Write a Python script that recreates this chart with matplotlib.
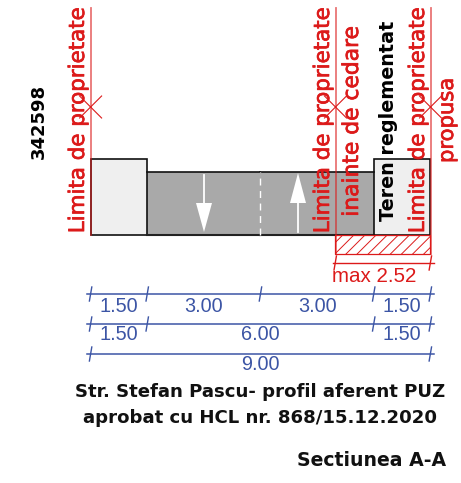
import matplotlib
matplotlib.use("Agg")
import matplotlib.pyplot as plt
import matplotlib.patheffects as pe
from matplotlib.patches import Rectangle, Polygon
from itertools import accumulate

# Street profile, metres
lane_widths = [1.50, 3.00, 3.00, 1.50]
zone_widths = [1.50, 6.00, 1.50]
total_width = [9.00]
surface_heights = [2.00, 1.68, 1.68, 2.00]
surface_names = ["walk", "road", "road", "walk"]
setback = 2.52

RED = "#dc1a1a"
BLUE = "#3c55a5"
SCALE = 37.75
X0, Y0 = 90.6, 235.0
W, H = 461, 483

plt.rcParams["hatch.linewidth"] = 0.7
fig = plt.figure(figsize=(W / 100, H / 100), dpi=100)
ax = fig.add_axes([0, 0, 1, 1])
ax.set_xlim(-X0 / SCALE, (W - X0) / SCALE)
ax.set_ylim((Y0 - H) / SCALE, Y0 / SCALE)
ax.axis("off")


def py(p):
    return (Y0 - p) / SCALE


def px(p):
    return (p - X0) / SCALE


# Surfaces
edges = [0] + list(accumulate(lane_widths))
colors = {"walk": "#efefef", "road": "#a9a9a9"}
for left, w, h, name in zip(edges, lane_widths, surface_heights, surface_names):
    ax.add_patch(Rectangle((left, 0), w, h, fc=colors[name], ec="none", zorder=2))
    if name == "walk":
        ax.add_patch(Rectangle((left, 0), w, h, fc="none", ec="#111111", lw=1.2, zorder=3))
    else:
        ax.plot([left, left + w], [h, h], color="#111111", lw=1.2, zorder=3)
        ax.plot([left, left + w], [0, 0], color="#222222", lw=1.5, zorder=3)

# Centre line
ax.plot([edges[2]] * 2, [0, surface_heights[1]], color="white", lw=1, ls=(0, (5, 4)), zorder=3)

# Direction arrows
for xc, tip, base, tail in [(204, 232, 203, 175), (298, 173, 203, 232)]:
    x = px(xc)
    ax.plot([x, x], [py(base), py(tail)], color="white", lw=1.3, zorder=3)
    ax.add_patch(Polygon([(x - 8 / SCALE, py(base)), (x + 8 / SCALE, py(base)), (x, py(tip))],
                         fc="white", ec="none", zorder=3))

# Setback hatch
total = total_width[0]
ax.add_patch(Rectangle((total - setback, py(254)), setback, -py(254), fc="white", ec=RED,
                       hatch="///", lw=0.9, zorder=3))

# Property lines and crosses
for xp, bottom in [(90.6, 235), (335.5, 254), (430.5, 254)]:
    x = px(xp)
    ax.plot([x, x], [py(8), py(bottom)], color=RED, lw=1.3, alpha=0.6, zorder=4)
    ax.plot([x - 11 / SCALE, x + 11 / SCALE], [py(96), py(118)], color=RED, lw=0.8, zorder=4)
    ax.plot([x - 11 / SCALE, x + 11 / SCALE], [py(118), py(96)], color=RED, lw=0.8, zorder=4)

# Vertical labels
vfont = ["DejaVu Sans"]
vertical = [
    ("Limita de proprietate", 78, 120.5, RED, 15.4, "normal"),
    ("Limita de proprietate", 323, 120.5, RED, 15.4, "normal"),
    ("inainte de cedare", 352, 121.5, RED, 15.7, "normal"),
    ("Teren reglementat", 388, 121, "black", 13.8, "bold"),
    ("Limita de proprietate", 418, 120.5, RED, 15.4, "normal"),
    ("propusa", 447, 120.5, RED, 15.2, "normal"),
]
for s, xp, yp, c, fs, fw in vertical:
    t = ax.text(px(xp), py(yp), s, rotation=90, ha="center", va="center", color=c, fontsize=fs,
                family=vfont, fontweight=fw, zorder=5)
    if fw == "normal":
        t.set_path_effects([pe.withStroke(linewidth=0.5, foreground=c)])
ax.text(px(39), py(121), "342598", rotation=90, ha="center", va="center", color="black",
        fontsize=13, family=vfont, fontweight="bold", zorder=5)


# Dimension chains
def tick(x, yp, color):
    ax.plot([x - 1.2 / SCALE, x + 1.2 / SCALE], [py(yp + 7), py(yp - 7)], color=color, lw=1.0, zorder=4)


def chain(widths, yp, text_yp):
    e = [0] + list(accumulate(widths))
    ax.plot([px(87), px(434)], [py(yp), py(yp)], color=BLUE, lw=1.1, zorder=4)
    for v in e:
        tick(v, yp, BLUE)
    for left, w in zip(e, widths):
        ax.text(left + w / 2, py(text_yp), f"{w:.2f}", ha="center", va="center", color=BLUE,
                fontsize=14.3, family="Liberation Sans", zorder=5)


chain(lane_widths, 294, 306)
chain(zone_widths, 324, 335)
chain(total_width, 354, 365)

# Setback dimension
ax.plot([px(333), px(434)], [py(263), py(263)], color=RED, lw=1.0, zorder=4)
tick(total - setback, 263, RED)
tick(total, 263, RED)
ax.text(px(374), py(276), f"max {setback:.2f}", ha="center", va="center", color=RED,
        fontsize=14.8, family="Liberation Sans", zorder=5)

# Captions
for s, xp, yp, ha, fs in [
    ("Str. Stefan Pascu- profil aferent PUZ", 260, 392, "center", 13.1),
    ("aprobat cu HCL nr. 868/15.12.2020", 260, 418, "center", 13.1),
    ("Sectiunea A-A", 446, 460, "right", 13.6),
]:
    ax.text(px(xp), py(yp), s, ha=ha, va="center", color="#111111", fontsize=fs,
            family=vfont, fontweight="bold", zorder=5)

fig.savefig("out.png", dpi=100, facecolor="white")
